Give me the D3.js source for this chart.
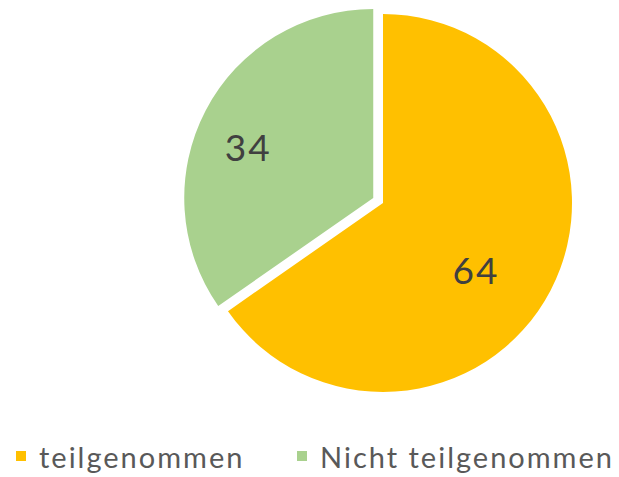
<!DOCTYPE html>
<html>
  <head>
    <script src="https://d3js.org/d3.v7.min.js"></script>
    <style>
      body {margin: 0; background: #fff;}
      text {font-family: Lato, "Open Sans", sans-serif;}
    </style>
  </head>
  <body>
    <svg id="pieSvg" width="619" height="477">
      <g id="pie"/>
      <g id="legend"/>
    </svg>
  </body>
  <script>
      let width = 619, height = 477;
      let categories = ["teilgenommen", "Nicht teilgenommen"];
      let values = [64, 34];
      let colors = ["#ffc000", "#a9d18e"];

      let cx = 383, cy = 203, radius = 189, explode = 11;

      function visualize() {
          let pie = d3.pie().sort(null).value(d => d.value);
          let arcs = pie(categories.map((c, i) => ({ name: c, value: values[i], color: colors[i] })));
          let arcGen = d3.arc().innerRadius(0).outerRadius(radius);
          // best-fit label placement of the original: angle nudge + radius share
          let labelTurn = [0.156, -0.104];
          let labelR = [0.605, 0.717];

          let g = d3.select("#pie").attr("transform", `translate(${cx},${cy})`);
          let slices = g.selectAll("g.slice").data(arcs).enter().append("g")
              .attr("class", "slice")
              .attr("transform", (d, i) => {
                  if (i === 0) return null;
                  let mid = (d.startAngle + d.endAngle) / 2;
                  return `translate(${Math.sin(mid) * explode},${-Math.cos(mid) * explode})`;
              });
          slices.append("path").attr("d", arcGen).attr("fill", d => d.data.color);
          slices.append("text")
              .attr("transform", (d, i) => {
                  let a = (d.startAngle + d.endAngle) / 2 + labelTurn[i];
                  let r = radius * labelR[i];
                  let c = d3.arc().innerRadius(r).outerRadius(r).centroid({ startAngle: a, endAngle: a });
                  return `translate(${c[0] + 1},${c[1]})`;
              })
              .attr("text-anchor", "middle").attr("dy", "0.36em")
              .attr("font-size", 37).attr("letter-spacing", 2).attr("fill", "#404040")
              .text(d => d.data.value);

          let legend = d3.select("#legend");
          let xs = [16, 297];
          let items = legend.selectAll("g").data(categories).enter().append("g")
              .attr("transform", (d, i) => `translate(${xs[i]},456)`);
          items.append("rect").attr("x", 0).attr("y", -5).attr("width", 10).attr("height", 10)
              .attr("fill", (d, i) => colors[i]);
          items.append("text").attr("x", 23).attr("y", 12)
              .attr("font-size", 29).attr("letter-spacing", 2).attr("fill", "#595959").text(d => d);
      }

      visualize();
  </script>
</html>
